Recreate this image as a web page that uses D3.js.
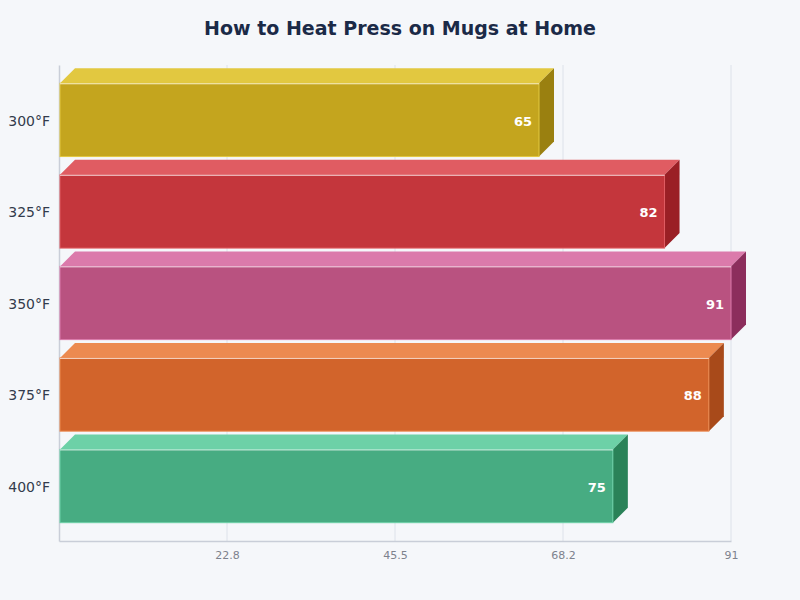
<!DOCTYPE html>
<html>
<head>
<meta charset="utf-8">
<script src="https://cdn.jsdelivr.net/npm/d3@7"></script>
<style>
  body { margin: 0; background: #f5f7fa; }
  svg { font-family: "DejaVu Sans", sans-serif; }
</style>
</head>
<body>
<div id="chart"></div>
<script>
// chart data
var categories = ["300°F", "325°F", "350°F", "375°F", "400°F"];
var values = [65, 82, 91, 88, 75];
var tickLabels = ["22.8", "45.5", "68.2", "91"];
var frontColors = ["#c4a51e", "#c4363c", "#b95280", "#d2642b", "#47ac82"];
var topColors = ["#e2c840", "#e05c62", "#db7aab", "#ec8a50", "#6dd1a7"];
var sideColors = ["#9a8010", "#9a1f25", "#8c2e5c", "#a84a1a", "#2a8258"];

var svgWidth = 800;
var svgHeight = 600;
var margin = { top: 65, right: 69, bottom: 59, left: 59 };
var width = svgWidth - margin.left - margin.right;
var height = svgHeight - margin.top - margin.bottom;
var depth = 15;

var svg = d3.select("#chart")
  .append("svg")
  .attr("width", svgWidth)
  .attr("height", svgHeight);

svg.append("rect")
  .attr("width", svgWidth)
  .attr("height", svgHeight)
  .attr("fill", "#f5f7fa");

// title
svg.append("text")
  .attr("x", svgWidth / 2)
  .attr("y", 35)
  .attr("text-anchor", "middle")
  .attr("font-size", "19px")
  .attr("font-weight", "bold")
  .attr("fill", "#1b2a47")
  .text("How to Heat Press on Mugs at Home");

var chartGroup = svg.append("g")
  .attr("transform", `translate(${margin.left}, ${margin.top})`);

var maxVal = d3.max(values);

var xScale = d3.scaleLinear()
  .domain([0, maxVal])
  .range([0, width]);

var yScale = d3.scaleBand()
  .domain(categories)
  .range([0, height])
  .paddingInner(0.2)
  .paddingOuter(0.2);

var tickVals = tickLabels.map((t, i) => maxVal * (i + 1) / tickLabels.length);

// gridlines
chartGroup.selectAll(".grid")
  .data(tickVals)
  .enter()
  .append("line")
  .attr("x1", d => xScale(d))
  .attr("x2", d => xScale(d))
  .attr("y1", 0)
  .attr("y2", height)
  .attr("stroke", "#dde2ea")
  .attr("stroke-width", 1);

// bottom axis
var bottomAxis = d3.axisBottom(xScale)
  .tickValues(tickVals)
  .tickFormat((d, i) => tickLabels[i])
  .tickSize(0)
  .tickPadding(10);

var xAxis = chartGroup.append("g")
  .attr("transform", `translate(0, ${height})`)
  .call(bottomAxis);
xAxis.select(".domain").attr("stroke", "#c9ced8").attr("stroke-width", 1.5);
xAxis.selectAll("text")
  .attr("fill", "#7d828d")
  .attr("font-size", "11px")
  .attr("font-family", "DejaVu Sans, sans-serif");

// left axis
var leftAxis = d3.axisLeft(yScale)
  .tickSize(0)
  .tickPadding(9);

var yAxis = chartGroup.append("g")
  .call(leftAxis);
yAxis.select(".domain").attr("stroke", "#c9ced8").attr("stroke-width", 1.5);
yAxis.selectAll("text")
  .attr("fill", "#333b4c")
  .attr("font-size", "14px")
  .attr("dy", "0.42em")
  .attr("font-family", "DejaVu Sans, sans-serif");

// 3D bars
var bars = chartGroup.selectAll(".bar")
  .data(values)
  .enter()
  .append("g")
  .attr("class", "bar");

var x0 = 1;

// top face
bars.append("path")
  .attr("d", (d, i) => {
    var y = yScale(categories[i]);
    var x1 = xScale(d);
    return `M${x0},${y} L${x0 + depth},${y - depth} L${x1 + depth},${y - depth} L${x1},${y} Z`;
  })
  .attr("fill", (d, i) => topColors[i]);

// side face
bars.append("path")
  .attr("d", (d, i) => {
    var y = yScale(categories[i]);
    var h = yScale.bandwidth();
    var x1 = xScale(d);
    return `M${x1},${y} L${x1 + depth},${y - depth} L${x1 + depth},${y + h - depth} L${x1},${y + h} Z`;
  })
  .attr("fill", (d, i) => sideColors[i]);

// front face
bars.append("rect")
  .attr("x", x0)
  .attr("y", (d, i) => yScale(categories[i]))
  .attr("width", d => xScale(d) - x0)
  .attr("height", yScale.bandwidth())
  .attr("fill", (d, i) => frontColors[i])
  .attr("stroke", (d, i) => topColors[i])
  .attr("stroke-width", 1);

// highlight on the top edge
bars.append("line")
  .attr("x1", x0)
  .attr("x2", d => xScale(d))
  .attr("y1", (d, i) => yScale(categories[i]) + 0.5)
  .attr("y2", (d, i) => yScale(categories[i]) + 0.5)
  .attr("stroke", "#ffffff")
  .attr("stroke-opacity", 0.7)
  .attr("stroke-width", 1);

// value labels
bars.append("text")
  .attr("x", d => xScale(d) - 7)
  .attr("y", (d, i) => yScale(categories[i]) + yScale.bandwidth() / 2)
  .attr("dy", "0.45em")
  .attr("text-anchor", "end")
  .attr("font-size", "13px")
  .attr("font-weight", "bold")
  .attr("fill", "#ffffff")
  .text(d => d);
</script>
</body>
</html>
